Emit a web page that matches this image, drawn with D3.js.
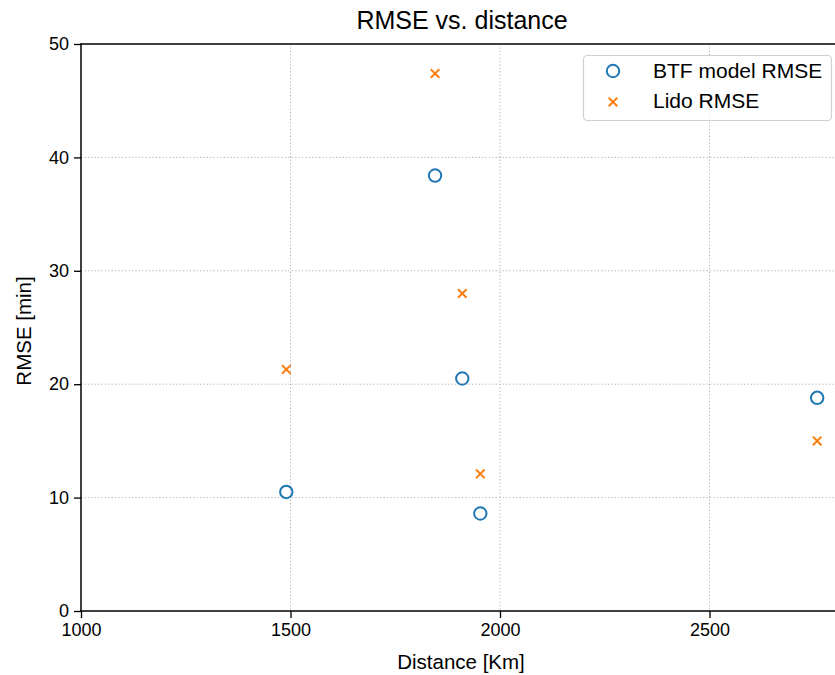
<!DOCTYPE html>
<html>
<head>
<meta charset="utf-8">
<script src="https://cdn.jsdelivr.net/npm/d3@7"></script>
<style>
	body { margin: 0; background: #fff; }
	svg text { font-family: "Liberation Sans", Arial, sans-serif; fill: #000; }
</style>
</head>
<body>
<svg id="chart" width="835" height="675"></svg>
<script>
// data
var distances = [1490, 1845, 1910, 1953, 2757];
var btfRMSE = [10.5, 38.4, 20.5, 8.6, 18.8];
var lidoRMSE = [21.3, 47.4, 28.0, 12.1, 15.0];
var xTicks = [1000, 1500, 2000, 2500];
var yTicks = [0, 10, 20, 30, 40, 50];
var seriesNames = ["BTF model RMSE", "Lido RMSE"];
var seriesColors = ["#1f77b4", "#ff7f0e"];

var svg = d3.select("#chart");
var L = 81, R = 844, T = 44, B = 611;

var x = d3.scaleLinear().domain([1000, 2821]).range([L, R]);
var y = d3.scaleLinear().domain([0, 50]).range([B, T]);

// grid
var grid = svg.append("g");
grid.selectAll("line.gx").data(xTicks.slice(1)).enter().append("line")
	.attr("x1", function(d) { return x(d); }).attr("x2", function(d) { return x(d); })
	.attr("y1", T).attr("y2", B)
	.attr("stroke", "#b0b0b0").attr("stroke-width", 1).attr("stroke-dasharray", "1.2,2.2");
grid.selectAll("line.gy").data(yTicks.slice(1, -1)).enter().append("line")
	.attr("y1", function(d) { return y(d); }).attr("y2", function(d) { return y(d); })
	.attr("x1", L).attr("x2", R)
	.attr("stroke", "#b0b0b0").attr("stroke-width", 1).attr("stroke-dasharray", "1.2,2.2");

// axes
var xAxis = svg.append("g").attr("transform", "translate(0," + B + ")")
	.call(d3.axisBottom(x).tickValues(xTicks).tickFormat(d3.format("d")).tickSizeOuter(0).tickSize(7).tickPadding(5));
var yAxis = svg.append("g").attr("transform", "translate(" + L + ",0)")
	.call(d3.axisLeft(y).tickValues(yTicks).tickFormat(d3.format("d")).tickSizeOuter(0).tickSize(7).tickPadding(5));
[xAxis, yAxis].forEach(function(a) {
	a.select(".domain").remove();
	a.selectAll(".tick line").attr("stroke", "#000").attr("stroke-width", 1.3);
	a.selectAll(".tick text").attr("font-size", 18).attr("font-family", "Liberation Sans, Arial, sans-serif").attr("fill", "#000");
});

// spines
[[L, T, L, B], [L, B, R, B], [L, T, R, T], [R, T, R, B]].forEach(function(s) {
	svg.append("line").attr("x1", s[0]).attr("y1", s[1]).attr("x2", s[2]).attr("y2", s[3])
		.attr("stroke", "#000").attr("stroke-width", 1.5).attr("stroke-linecap", "square");
});

// markers
function drawCross(g, cx, cy, s, color) {
	g.append("path")
		.attr("d", "M" + (cx - s) + "," + (cy - s) + "L" + (cx + s) + "," + (cy + s) +
			"M" + (cx - s) + "," + (cy + s) + "L" + (cx + s) + "," + (cy - s))
		.attr("stroke", color).attr("stroke-width", 2).attr("fill", "none");
}

var marks = svg.append("g");
marks.selectAll("circle.btf").data(distances).enter().append("circle")
	.attr("cx", function(d) { return x(d); })
	.attr("cy", function(d, i) { return y(btfRMSE[i]); })
	.attr("r", 6.2)
	.attr("fill", "none").attr("stroke", seriesColors[0]).attr("stroke-width", 2);
distances.forEach(function(d, i) {
	drawCross(marks, x(d), y(lidoRMSE[i]), 4.3, seriesColors[1]);
});

// title and labels
svg.append("text").attr("x", 462).attr("y", 29).attr("text-anchor", "middle")
	.attr("font-size", 25).text("RMSE vs. distance");
svg.append("text").attr("x", 461).attr("y", 669).attr("text-anchor", "middle")
	.attr("font-size", 20.5).text("Distance [Km]");
svg.append("text").attr("transform", "translate(31,331) rotate(-90)")
	.attr("text-anchor", "middle").attr("font-size", 20.5).text("RMSE [min]");

// legend
var lg = svg.append("g");
lg.append("rect").attr("x", 583.5).attr("y", 55.5).attr("width", 248).attr("height", 65).attr("rx", 4)
	.attr("fill", "#fff").attr("fill-opacity", 0.8).attr("stroke", "#d0d0d0").attr("stroke-width", 1.2);
lg.append("circle").attr("cx", 613).attr("cy", 71).attr("r", 6.2)
	.attr("fill", "none").attr("stroke", seriesColors[0]).attr("stroke-width", 2);
drawCross(lg, 613, 102, 4.3, seriesColors[1]);
lg.selectAll("text").data(seriesNames).enter().append("text")
	.attr("x", 653).attr("y", function(d, i) { return 78 + i * 30; })
	.attr("font-size", 21).text(function(d) { return d; });
</script>
</body>
</html>
